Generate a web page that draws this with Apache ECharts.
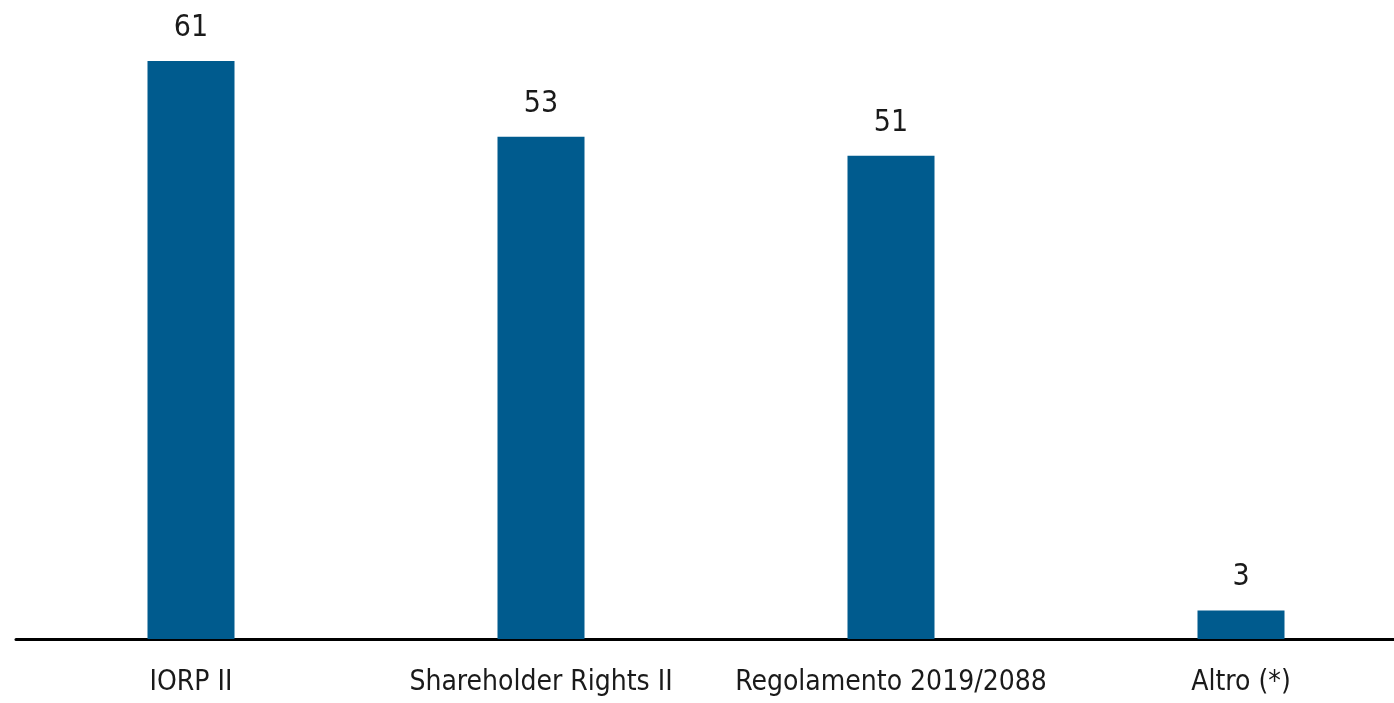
<!DOCTYPE html>
<html>
<head>
<meta charset="utf-8">
<script src="https://cdn.jsdelivr.net/npm/echarts@6/dist/echarts.min.js"></script>
<style>
  html, body { margin: 0; padding: 0; background: #fff; }
  #chart { width: 1394px; height: 703px; }
</style>
</head>
<body>
<div id="chart"></div>
<script>
// categorie e valori
const categories = ['IORP II', 'Shareholder Rights II', 'Regolamento 2019/2088', 'Altro (*)'];
const values = [61, 53, 51, 3];

const FONT = '"DejaVu Sans Condensed", "Liberation Sans Narrow", "Liberation Sans", Arial, sans-serif';

let myChart = echarts.init(document.getElementById('chart'));
myChart.setOption({
  animation: false,
  grid: { left: 16, top: 61, bottom: 64, width: 1400, outerBoundsMode: 'none', containLabel: false },
  xAxis: {
    type: 'category',
    data: categories,
    axisLine: { lineStyle: { color: '#000', width: 3 } },
    axisTick: { show: false },
    axisLabel: { interval: 0, color: '#1a1a1a', fontSize: 28, fontFamily: FONT, margin: 30 }
  },
  yAxis: {
    type: 'value',
    min: 0,
    max: 61,
    show: false
  },
  series: [{
    type: 'bar',
    data: values,
    barWidth: 87,
    itemStyle: { color: '#005b8e' },
    label: {
      show: true,
      position: 'top',
      distance: 18,
      color: '#1a1a1a',
      fontSize: 30,
      fontFamily: FONT
    }
  }]
});
</script>
</body>
</html>
